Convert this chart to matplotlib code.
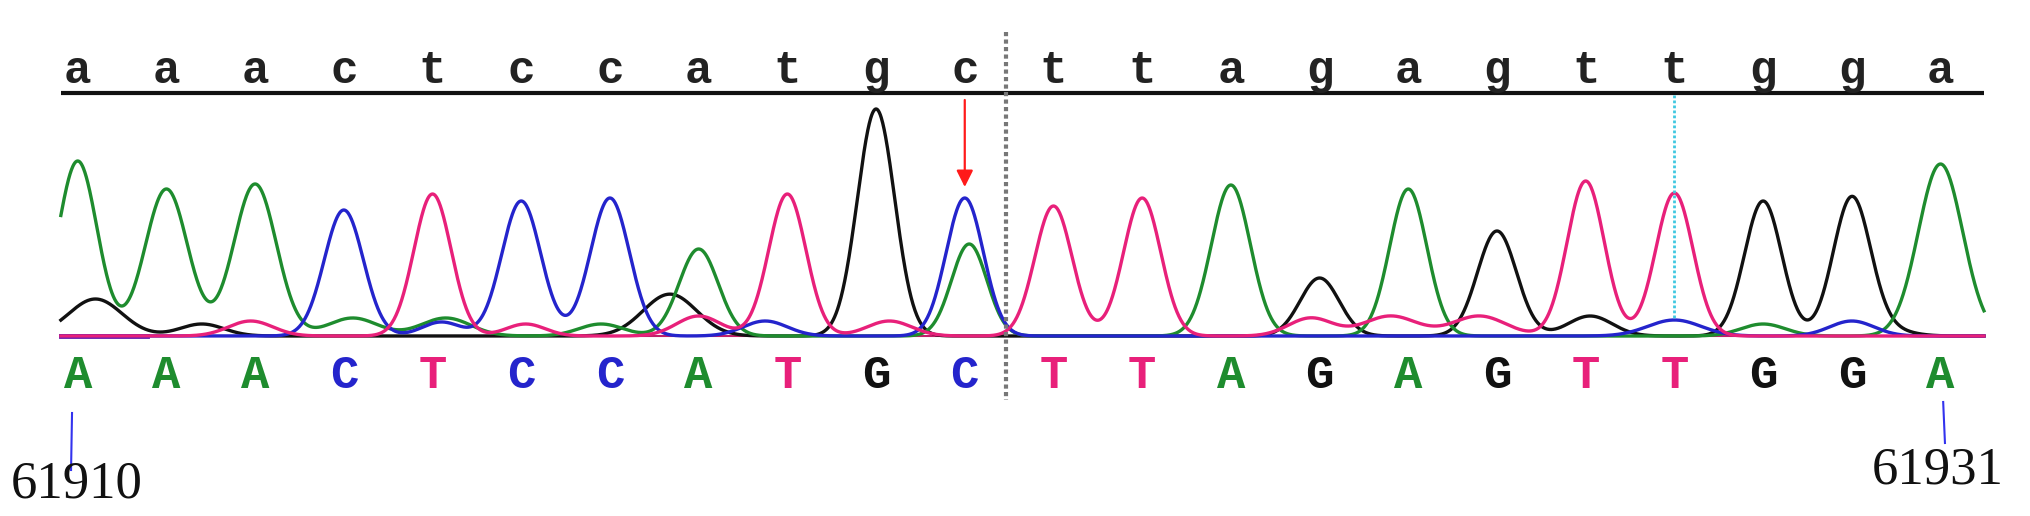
import numpy as np
import matplotlib.pyplot as plt

# sequence shown above and below the traces
ref_bases = list("aaactccatgcttagagttgga")
call_bases = list("AAACTCCATGCTTAGAGTTGGA")

# main peak height for every called base (signal units)
peak_height = [175, 147, 152, 126, 142, 135, 138, 87, 142, 227, 138,
               130, 138, 151, 58, 147, 105, 155, 143, 135, 138, 172]
peak_width = [0.22, 0.24, 0.24, 0.22, 0.21, 0.22, 0.22, 0.22, 0.21, 0.21, 0.21,
              0.21, 0.21, 0.22, 0.22, 0.21, 0.22, 0.21, 0.21, 0.21, 0.21, 0.25]

# small secondary peaks: channel, position (base index), height, width
minor_channel = ["A", "G", "G", "G", "T", "A", "A", "C", "T", "A", "G", "T",
                 "C", "T", "T", "T", "T", "G", "C", "A", "C", "G"]
minor_pos = [10.05, 0.2, 1.4, 6.7, 1.95, 3.1, 4.15, 4.1, 5.05, 5.9, 6.65, 7.0,
             7.75, 9.15, 13.9, 14.8, 15.8, 17.05, 18.0, 19.0, 20.0, 20.4]
minor_height = [92, 37, 12, 22, 15, 18, 18, 14, 12, 12, 20, 20,
                15, 15, 18, 20, 20, 20, 16, 12, 15, 6]
minor_width = [0.2, 0.3, 0.25, 0.3, 0.25, 0.28, 0.28, 0.22, 0.22, 0.25, 0.3, 0.25,
               0.25, 0.25, 0.25, 0.3, 0.3, 0.25, 0.3, 0.25, 0.25, 0.25]

start_label = "61910"
end_label = "61931"
mutant_index = 10
marked_index = 18

trace_colors = {"A": "#1e8c2e", "C": "#2424cc", "G": "#111111", "T": "#e8207a"}

fig = plt.figure(figsize=(20.31, 5.16), dpi=100)
ax = fig.add_axes([0, 0, 1, 1])
# x in base units, y in pixels above the trace baseline
ax.set_xlim(-0.876, 22.02)
ax.set_ylim(-180, 336)
ax.axis("off")

x = np.linspace(-0.19, 21.49, 4000)
signals = {ch: np.zeros_like(x) for ch in "ACGT"}
for i, b in enumerate(call_bases):
    signals[b] += peak_height[i] * np.exp(-(x - i) ** 2 / (2 * peak_width[i] ** 2))
for ch, p, h, w in zip(minor_channel, minor_pos, minor_height, minor_width):
    signals[ch] += h * np.exp(-(x - p) ** 2 / (2 * w ** 2))

ax.plot([-0.19, 21.49], [0, 0], color="#c0206a", lw=1.5, zorder=1)
ax.plot([-0.19, 0.78], [0, 0], color="#6b1fb0", lw=3.5, zorder=2)
for ch in ["G", "A", "C", "T"]:
    ax.plot(x, signals[ch], color=trace_colors[ch], lw=2.4, zorder=3,
            solid_joinstyle="round")

# top reference sequence and rule
ax.plot([-0.19, 21.49], [243, 243], color="#111111", lw=3, solid_capstyle="butt")
for i, b in enumerate(ref_bases):
    ax.text(i, 253, b, ha="center", va="baseline", fontsize=33,
            family="Liberation Mono", fontweight="bold", color="#222222")

# called bases
for i, b in enumerate(call_bases):
    ax.text(i, -40, b, ha="center", va="center", fontsize=34,
            family="Liberation Mono", fontweight="bold", color=trace_colors[b])

# separator and marker lines
ax.plot([mutant_index + 0.47] * 2, [304, -64], color="#777777", lw=3,
        ls=(0, (1, 0.8)), zorder=4)
ax.plot([marked_index] * 2, [241, 16], color="#40c8e0", lw=2,
        ls=(0, (1, 0.8)), zorder=4)
ax.annotate("", xy=(mutant_index, 149), xytext=(mutant_index, 236),
            arrowprops=dict(arrowstyle="-|>", color="#ff1a1a", lw=1.6,
                            mutation_scale=25, shrinkA=0, shrinkB=0))

# position ticks and labels
ax.plot([-0.064, -0.075], [-77, -134], color="#3333ee", lw=1.5)
ax.plot([21.03, 21.05], [-66, -107], color="#3333ee", lw=1.5)
ax.text(-0.01, -149, start_label, ha="center", va="center", fontsize=38,
        family="Liberation Serif", color="#111111")
ax.text(20.97, -134, end_label, ha="center", va="center", fontsize=38,
        family="Liberation Serif", color="#111111")

fig.savefig("out.png", dpi=100, facecolor="white")
